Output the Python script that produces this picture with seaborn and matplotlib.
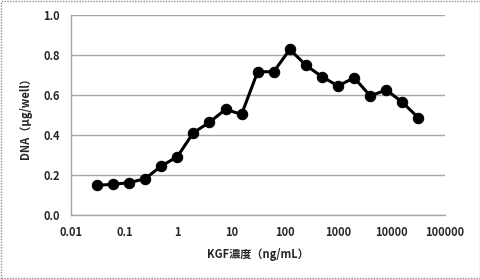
import numpy as np
import pandas as pd
import matplotlib
matplotlib.use("Agg")
import matplotlib.pyplot as plt
import matplotlib.patches as mpatches
import seaborn as sns

conc = [0.0305, 0.061, 0.122, 0.244, 0.488, 0.977, 1.95, 3.91, 7.81, 15.6, 31.25,
        62.5, 125, 250, 500, 1000, 2000, 4000, 8000, 16000, 32000]
dna = [0.150, 0.155, 0.163, 0.183, 0.246, 0.293, 0.413, 0.465, 0.530, 0.505, 0.718,
       0.718, 0.830, 0.750, 0.693, 0.647, 0.688, 0.597, 0.627, 0.565, 0.487]
xticks = [0.01, 0.1, 1, 10, 100, 1000, 10000, 100000]
xticklabels = ["0.01", "0.1", "1", "10", "100", "1000", "10000", "100000"]
yticks = [0.0, 0.2, 0.4, 0.6, 0.8, 1.0]

sns.set_style("white")
plt.rcParams['font.family'] = ['Noto Sans CJK JP', 'DejaVu Sans']

df = pd.DataFrame({"conc": conc, "dna": dna})
fig = plt.figure(figsize=(4.81, 2.79), dpi=100)
ax = fig.add_axes([0.1476, 0.2283, 0.925 - 0.1476, 0.945 - 0.2283])
sns.lineplot(data=df, x="conc", y="dna", ax=ax, color="black", marker="o",
             markersize=7.5, linewidth=2.2, markeredgecolor="black", zorder=3)
ax.set_xscale("log")
ax.set_xlim(0.01, 100000)
ax.set_ylim(0, 1.0)
ax.set_xticks(xticks)
ax.set_xticklabels(xticklabels)
ax.xaxis.set_minor_locator(matplotlib.ticker.NullLocator())
ax.set_yticks(yticks)
ax.set_yticklabels([f"{v:.1f}" for v in yticks])
ax.yaxis.grid(True, color="#A6A6A6", linewidth=1)
ax.set_axisbelow(True)
for s in ["top", "right"]:
    ax.spines[s].set_visible(False)
for s in ["left", "bottom"]:
    ax.spines[s].set_color("#A6A6A6")
    ax.spines[s].set_linewidth(1)
ax.tick_params(axis="both", which="major", direction="out", length=4, width=1,
               color="#A6A6A6", labelsize=8, pad=4)
for lab in ax.get_xticklabels() + ax.get_yticklabels():
    lab.set_fontweight("bold")
ax.set_xlabel("KGF濃度（ng/mL）", fontsize=8, fontweight="bold", labelpad=6)
ax.set_ylabel("DNA（μg/well）", fontsize=8, fontweight="bold", labelpad=8)

fig.patches.append(mpatches.Rectangle((0.002, 0.003), 0.996, 0.994, transform=fig.transFigure,
                                      fill=False, edgecolor="#909090", linestyle=(0, (1, 1)), linewidth=1))
fig.savefig("out.png", dpi=100)
